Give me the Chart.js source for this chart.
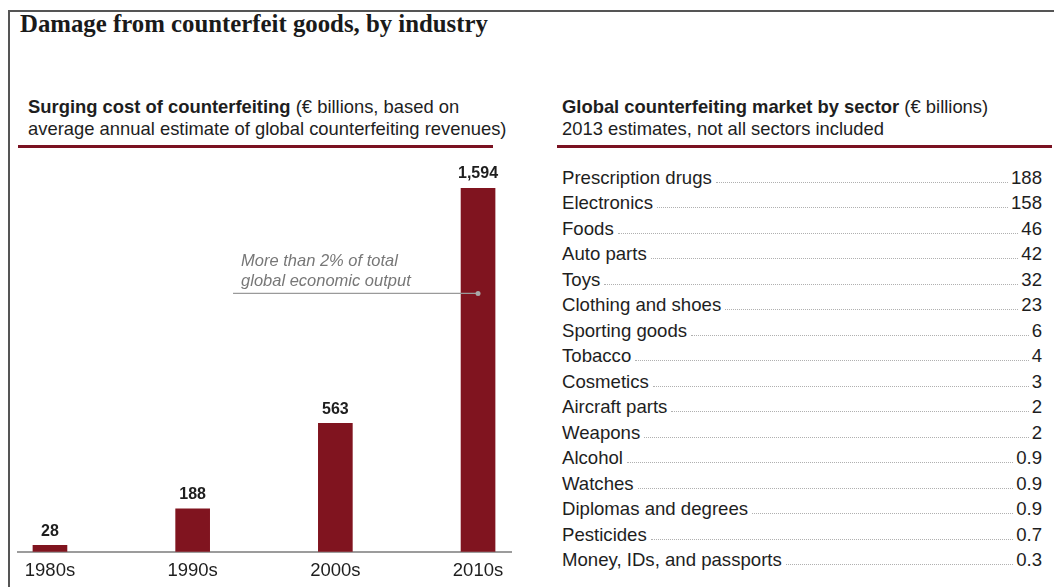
<!DOCTYPE html>
<html>
<head>
<meta charset="utf-8">
<script src="https://cdn.jsdelivr.net/npm/chart.js@4/dist/chart.umd.min.js"></script>
<style>
  body { margin: 0; width: 1054px; height: 587px; background: #fff; overflow: hidden; position: relative;
         font-family: "Liberation Sans", Arial, sans-serif; color: #1e1e1e; }
  .frame { position: absolute; left: 8px; top: 10px; right: 0; bottom: 0;
           border-left: 2px solid #555; border-top: 2px solid #555; }
  h1 { position: absolute; left: 20px; top: 10px; margin: 0; font: bold 24.8px "Liberation Serif", Georgia, serif;
       color: #1a1a1a; }
  .sub { position: absolute; top: 96px; font-size: 18.4px; line-height: 22px; margin: 0; }
  .sub b { font-weight: bold; }
  .rule { position: absolute; top: 145px; height: 3px; background: #7a1221; }
  #left-wrap { position: absolute; left: 0; top: 150px; width: 540px; height: 448px; }
  #sectors { position: absolute; left: 562px; top: 162px; width: 480px; }
  .row { display: flex; align-items: flex-end; height: 25.5px; font-size: 18.6px; line-height: 21px; }
  .row .lead { flex: 1; border-bottom: 1px dotted #b0b0b0; margin: 0 3px 5px 4px; }
</style>
</head>
<body>
<div class="frame"></div>
<h1>Damage from counterfeit goods, by industry</h1>

<p class="sub" style="left:28px"><b>Surging cost of counterfeiting</b> (€ billions, based on<br>average annual estimate of global counterfeiting revenues)</p>
<div class="rule" style="left:18px; width:475px"></div>

<p class="sub" style="left:562px"><b>Global counterfeiting market by sector</b> (€ billions)<br>2013 estimates, not all sectors included</p>
<div class="rule" style="left:557px; width:495px"></div>

<div id="left-wrap"><canvas id="costChart"></canvas></div>
<div id="sectors"></div>

<script>
// decades and average annual counterfeiting revenue (€ billions)
const decades = ["1980s", "1990s", "2000s", "2010s"];
const revenue = [28, 188, 563, 1594];

// 2013 sector estimates (€ billions)
const sectors = ["Prescription drugs", "Electronics", "Foods", "Auto parts", "Toys",
  "Clothing and shoes", "Sporting goods", "Tobacco", "Cosmetics", "Aircraft parts",
  "Weapons", "Alcohol", "Watches", "Diplomas and degrees", "Pesticides",
  "Money, IDs, and passports"];
const sectorValues = ["188", "158", "46", "42", "32", "23", "6", "4", "3", "2", "2",
  "0.9", "0.9", "0.9", "0.7", "0.3"];

// callout pointing at the 2010s bar
const noteLines = ["More than 2% of total", "global economic output"];
const noteAt = { index: 3, value: 1132, lineFrom: 1.283 };

const barRed = "#80141f";

// sector list with dotted leaders
const list = document.getElementById("sectors");
sectors.forEach(function (name, i) {
  const row = document.createElement("div");
  row.className = "row";
  row.innerHTML = "<span>" + name + "</span><span class='lead'></span><span>" + sectorValues[i] + "</span>";
  list.appendChild(row);
});

// value labels over bars + the callout line
const extras = {
  id: "extras",
  afterDatasetsDraw(chart) {
    const ctx = chart.ctx;
    const x = chart.scales.x, y = chart.scales.y;
    ctx.save();
    ctx.fillStyle = "#1e1e1e";
    ctx.font = "bold 16px 'Liberation Sans', Arial, sans-serif";
    ctx.textAlign = "center";
    ctx.textBaseline = "middle";
    chart.getDatasetMeta(0).data.forEach(function (bar, i) {
      ctx.fillText(revenue[i].toLocaleString("en-US"), bar.x, bar.y - 14);
    });

    const ly = y.getPixelForValue(noteAt.value);
    const x0 = x.getPixelForValue(noteAt.lineFrom);
    const x1 = x.getPixelForValue(noteAt.index);
    ctx.strokeStyle = "#9a9a9a";
    ctx.lineWidth = 1.2;
    ctx.beginPath();
    ctx.moveTo(x0, ly);
    ctx.lineTo(x1, ly);
    ctx.stroke();
    ctx.fillStyle = "#a8a8a8";
    ctx.beginPath();
    ctx.arc(x1, ly, 2.5, 0, Math.PI * 2);
    ctx.fill();

    ctx.fillStyle = "#777";
    ctx.font = "italic 16.5px 'Liberation Sans', Arial, sans-serif";
    ctx.textAlign = "left";
    noteLines.forEach(function (t, k) {
      ctx.fillText(t, x0 + 8, ly - 32 + k * 20);
    });
    ctx.restore();
  }
};

new Chart(document.getElementById("costChart"), {
  type: "bar",
  data: {
    datasets: [{
      data: revenue.map(function (v, i) { return { x: i, y: v }; }),
      backgroundColor: barRed,
      barThickness: 34
    }]
  },
  options: {
    responsive: true,
    maintainAspectRatio: false,
    animation: false,
    layout: { padding: { left: 18, right: 29, top: 38, bottom: 8 } },
    plugins: { legend: { display: false }, tooltip: { enabled: false } },
    scales: {
      x: {
        type: "linear",
        offset: false,
        min: -0.224,
        max: 3.231,
        grid: { display: false, drawTicks: false },
        border: { display: true, color: "#9c9c9c", width: 2 },
        afterBuildTicks: function (scale) {
          scale.ticks = decades.map(function (d, i) { return { value: i }; });
        },
        ticks: {
          padding: 8,
          color: "#1e1e1e",
          font: { family: "'Liberation Sans', Arial, sans-serif", size: 18.5 },
          callback: function (v) { return decades[v]; }
        }
      },
      y: {
        display: false,
        min: 0,
        max: 1594
      }
    }
  },
  plugins: [extras]
});
</script>
</body>
</html>
